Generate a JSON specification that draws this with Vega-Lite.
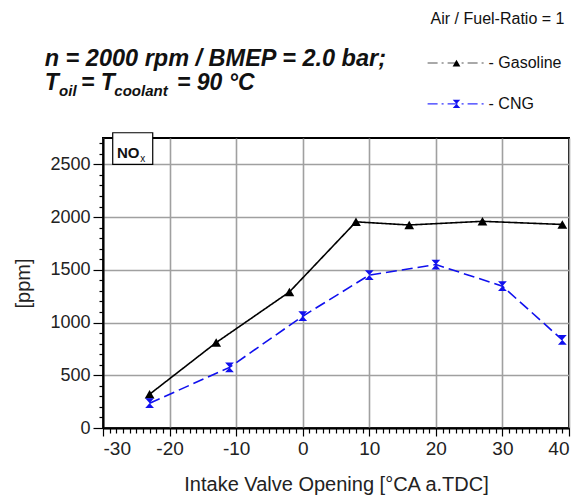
{
  "$schema": "https://vega.github.io/schema/vega-lite/v6.json",
  "width": 466,
  "height": 290,
  "autosize": "none",
  "padding": {"left": 103, "top": 138, "right": 14, "bottom": 73},
  "background": "white",
  "config": {
    "view": {"stroke": "black", "strokeWidth": 2},
    "font": "Liberation Sans"
  },
  "data": {
    "values": [
      {"fuel": "Gasoline", "ivo": -23, "nox": 320},
      {"fuel": "Gasoline", "ivo": -13, "nox": 810},
      {"fuel": "Gasoline", "ivo": -2, "nox": 1290},
      {"fuel": "Gasoline", "ivo": 8, "nox": 1955},
      {"fuel": "Gasoline", "ivo": 16, "nox": 1925},
      {"fuel": "Gasoline", "ivo": 27, "nox": 1960},
      {"fuel": "Gasoline", "ivo": 39, "nox": 1930},
      {"fuel": "CNG", "ivo": -23, "nox": 235},
      {"fuel": "CNG", "ivo": -11, "nox": 575},
      {"fuel": "CNG", "ivo": 0, "nox": 1060},
      {"fuel": "CNG", "ivo": 10, "nox": 1450},
      {"fuel": "CNG", "ivo": 20, "nox": 1550},
      {"fuel": "CNG", "ivo": 30, "nox": 1345},
      {"fuel": "CNG", "ivo": 39, "nox": 835}
    ]
  },
  "layer": [
    {
      "mark": {"type": "line", "strokeWidth": 1.6},
      "encoding": {
        "x": {
          "field": "ivo", "type": "quantitative",
          "scale": {"domain": [-30, 40], "nice": false, "zero": false},
          "axis": {
            "title": "Intake Valve Opening [°CA a.TDC]",
            "titleFont": "Liberation Sans",
            "titleFontSize": 20, "titleFontWeight": "normal", "titleColor": "#222",
            "titlePadding": 16,
            "tickCount": 200,
            "values": [-30,-29,-28,-27,-26,-25,-24,-23,-22,-21,-20,-19,-18,-17,-16,-15,-14,-13,-12,-11,-10,-9,-8,-7,-6,-5,-4,-3,-2,-1,0,1,2,3,4,5,6,7,8,9,10,11,12,13,14,15,16,17,18,19,20,21,22,23,24,25,26,27,28,29,30,31,32,33,34,35,36,37,38,39,40],
            "labelExpr": "datum.value % 10 === 0 ? '' + datum.value : ''",
            "labelOverlap": false,
            "labelFont": "Liberation Sans",
            "labelFontSize": 19, "labelColor": "#222",
            "labelPadding": 3,
            "domainColor": "black", "domainWidth": 2,
            "tickColor": "black", "tickWidth": 1.2,
            "tickSize": {"condition": {"test": "datum.value % 10 === 0", "value": 8}, "value": 5},
            "grid": true, "gridColor": "#a0a0a0", "gridWidth": 1.6,
            "gridOpacity": {"condition": {"test": "datum.value % 10 === 0", "value": 1}, "value": 0}
          }
        },
        "y": {
          "field": "nox", "type": "quantitative",
          "scale": {"domain": [0, 2750], "nice": false},
          "axis": {
            "title": "[ppm]",
            "titleFont": "Liberation Sans", "titleFontSize": 20, "titleFontWeight": "normal", "titleColor": "#222",
            "titlePadding": 16,
            "tickCount": 200,
            "values": [0,100,200,300,400,500,600,700,800,900,1000,1100,1200,1300,1400,1500,1600,1700,1800,1900,2000,2100,2200,2300,2400,2500,2600,2700],
            "labelExpr": "datum.value % 500 === 0 ? '' + datum.value : ''",
            "labelOverlap": false,
            "labelFont": "Liberation Sans",
            "labelFontSize": 18, "labelColor": "#222",
            "labelPadding": 3,
            "domainColor": "black", "domainWidth": 2,
            "tickColor": "black", "tickWidth": 1.2,
            "tickSize": {"condition": {"test": "datum.value % 500 === 0", "value": 10}, "value": 4},
            "grid": true, "gridColor": "#a0a0a0", "gridWidth": 1.6,
            "gridOpacity": {"condition": {"test": "datum.value % 500 === 0", "value": 1}, "value": 0}
          }
        },
        "color": {"field": "fuel", "type": "nominal", "scale": {"domain": ["Gasoline", "CNG"], "range": ["black", "#1010ee"]}, "legend": null},
        "strokeDash": {"field": "fuel", "type": "nominal", "scale": {"domain": ["Gasoline", "CNG"], "range": [[1, 0], [11, 5]]}, "legend": null}
      }
    },
    {
      "mark": {"type": "point", "filled": true, "opacity": 1, "size": 95},
      "encoding": {
        "x": {"field": "ivo", "type": "quantitative"},
        "y": {"field": "nox", "type": "quantitative"},
        "color": {"field": "fuel", "type": "nominal", "legend": null},
        "shape": {"field": "fuel", "type": "nominal", "scale": {"domain": ["Gasoline", "CNG"], "range": ["triangle-up", "M-0.9,-1L0.9,-1L-0.9,1L0.9,1Z"]}, "legend": null}
      }
    },
    {
      "data": {"values": [{}]},
      "mark": {"type": "rect", "fill": "white", "stroke": "black", "strokeWidth": 1.2},
      "encoding": {
        "x": {"datum": -28.54, "type": "quantitative"},
        "x2": {"datum": -22.53},
        "y": {"datum": 2500, "type": "quantitative"},
        "y2": {"datum": 2800}
      }
    },
    {
      "data": {"values": [{}]},
      "mark": {"type": "text", "text": "NO", "fontSize": 15, "fontWeight": "bold", "align": "left", "baseline": "alphabetic", "color": "#111"},
      "encoding": {
        "x": {"datum": -27.9, "type": "quantitative"},
        "y": {"datum": 2565, "type": "quantitative"}
      }
    },
    {
      "data": {"values": [{}]},
      "mark": {"type": "text", "text": "x", "fontSize": 10, "align": "left", "baseline": "alphabetic", "color": "#111"},
      "encoding": {
        "x": {"datum": -24.4, "type": "quantitative"},
        "y": {"datum": 2518, "type": "quantitative"}
      }
    },
    {
      "data": {"values": [{}]},
      "mark": {"type": "text", "text": "n = 2000 rpm / BMEP = 2.0 bar;", "fontSize": 23.5, "fontWeight": "bold", "fontStyle": "italic", "align": "left", "baseline": "alphabetic", "color": "#111"},
      "encoding": {
        "x": {"datum": -38.76, "type": "quantitative"},
        "y": {"datum": 3433, "type": "quantitative"}
      }
    },
    {
      "data": {"values": [{}]},
      "mark": {"type": "text", "text": "T", "fontSize": 23, "fontWeight": "bold", "fontStyle": "italic", "align": "left", "baseline": "alphabetic", "color": "#111"},
      "encoding": {
        "x": {"datum": -38.76, "type": "quantitative"},
        "y": {"datum": 3205, "type": "quantitative"}
      }
    },
    {
      "data": {"values": [{}]},
      "mark": {"type": "text", "text": "oil", "fontSize": 15, "fontWeight": "bold", "fontStyle": "italic", "align": "left", "baseline": "alphabetic", "color": "#111"},
      "encoding": {
        "x": {"datum": -36.6, "type": "quantitative"},
        "y": {"datum": 3150, "type": "quantitative"}
      }
    },
    {
      "data": {"values": [{}]},
      "mark": {"type": "text", "text": "= T", "fontSize": 23, "fontWeight": "bold", "fontStyle": "italic", "align": "left", "baseline": "alphabetic", "color": "#111"},
      "encoding": {
        "x": {"datum": -33.3, "type": "quantitative"},
        "y": {"datum": 3205, "type": "quantitative"}
      }
    },
    {
      "data": {"values": [{}]},
      "mark": {"type": "text", "text": "coolant", "fontSize": 15, "fontWeight": "bold", "fontStyle": "italic", "align": "left", "baseline": "alphabetic", "color": "#111"},
      "encoding": {
        "x": {"datum": -28.3, "type": "quantitative"},
        "y": {"datum": 3150, "type": "quantitative"}
      }
    },
    {
      "data": {"values": [{}]},
      "mark": {"type": "text", "text": "= 90 °C", "fontSize": 23, "fontWeight": "bold", "fontStyle": "italic", "align": "left", "baseline": "alphabetic", "color": "#111"},
      "encoding": {
        "x": {"datum": -18.9, "type": "quantitative"},
        "y": {"datum": 3205, "type": "quantitative"}
      }
    },
    {
      "data": {"values": [{}]},
      "mark": {"type": "text", "text": "Air / Fuel-Ratio = 1", "fontSize": 16, "align": "left", "baseline": "alphabetic", "color": "#111"},
      "encoding": {
        "x": {"datum": 19.21, "type": "quantitative"},
        "y": {"datum": 3831, "type": "quantitative"}
      }
    },
    {
      "data": {"values": [{}]},
      "mark": {"type": "rule", "color": "#555", "strokeWidth": 1.2, "strokeDash": [10, 4, 2, 4]},
      "encoding": {
        "x": {"datum": 18.76, "type": "quantitative"},
        "x2": {"datum": 27.47},
        "y": {"datum": 3461, "type": "quantitative"}
      }
    },
    {
      "data": {"values": [{}]},
      "mark": {"type": "point", "shape": "triangle-up", "filled": true, "color": "black", "opacity": 1, "size": 60},
      "encoding": {
        "x": {"datum": 23.1, "type": "quantitative"},
        "y": {"datum": 3461, "type": "quantitative"}
      }
    },
    {
      "data": {"values": [{}]},
      "mark": {"type": "text", "text": "- Gasoline", "fontSize": 16, "align": "left", "baseline": "middle", "color": "#111"},
      "encoding": {
        "x": {"datum": 27.92, "type": "quantitative"},
        "y": {"datum": 3461, "type": "quantitative"}
      }
    },
    {
      "data": {"values": [{}]},
      "mark": {"type": "rule", "color": "#3333ff", "strokeWidth": 1.2, "strokeDash": [10, 4, 2, 4]},
      "encoding": {
        "x": {"datum": 18.76, "type": "quantitative"},
        "x2": {"datum": 27.47},
        "y": {"datum": 3073, "type": "quantitative"}
      }
    },
    {
      "data": {"values": [{}]},
      "mark": {"type": "point", "shape": "M-0.9,-1L0.9,-1L-0.9,1L0.9,1Z", "filled": true, "color": "#1010ee", "opacity": 1, "size": 70},
      "encoding": {
        "x": {"datum": 23.1, "type": "quantitative"},
        "y": {"datum": 3073, "type": "quantitative"}
      }
    },
    {
      "data": {"values": [{}]},
      "mark": {"type": "text", "text": "- CNG", "fontSize": 16, "align": "left", "baseline": "middle", "color": "#111"},
      "encoding": {
        "x": {"datum": 27.92, "type": "quantitative"},
        "y": {"datum": 3073, "type": "quantitative"}
      }
    }
  ]
}
